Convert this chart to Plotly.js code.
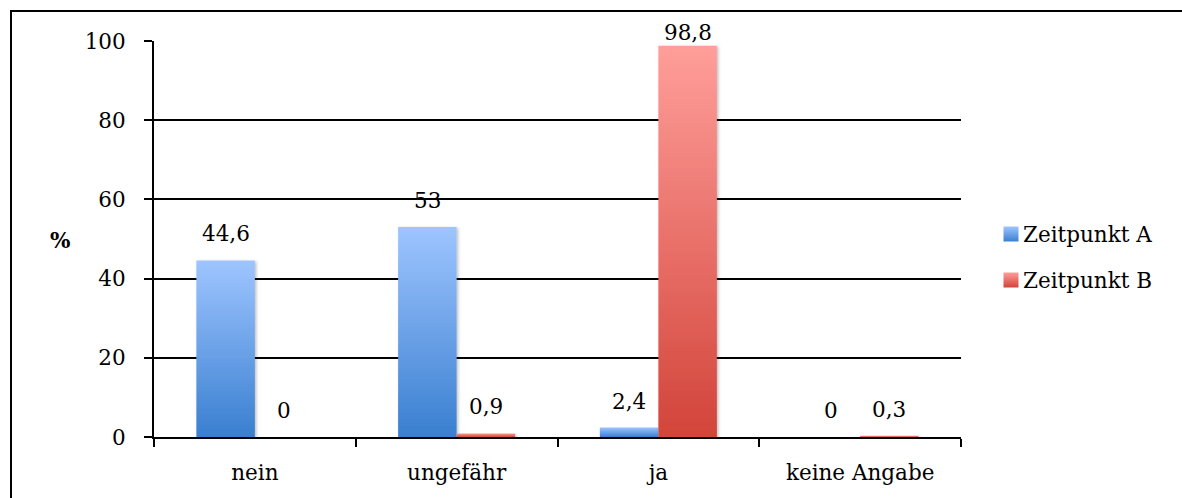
<!DOCTYPE html>
<html>
<head>
<meta charset="utf-8">
<script src="https://cdn.plot.ly/plotly-3.0.1.min.js"></script>
<style>
  html, body { margin: 0; padding: 0; background: #fff; }
  #chart { width: 1182px; height: 498px; }
</style>
</head>
<body>
<div id="chart"></div>
<script>
// ---- data ----
const categories = ["nein", "ungefähr", "ja", "keine Angabe"];
const seriesNames = ["Zeitpunkt A", "Zeitpunkt B"];
const valuesA = [44.6, 53, 2.4, 0];
const valuesB = [0, 0.9, 98.8, 0.3];
const yTicks = [0, 20, 40, 60, 80, 100];

// ---- layout constants ----
const W = 1182, H = 498;
const M = { l: 154, r: 221, t: 41, b: 61 };
const FONT = "DejaVu Serif, Liberation Serif, serif";
const FS = 21.5;
const BARGAP = 0.42;
const barW = (1 - BARGAP) / 2;
const labelCap = 95.4;

const traceA = {
  type: "bar", name: seriesNames[0], x: categories, y: valuesA,
  marker: { color: "#6fa3ea", line: { width: 0 } },
  legendgroup: "a", hoverinfo: "skip"
};
const traceB = {
  type: "bar", name: seriesNames[1], x: categories, y: valuesB,
  marker: { color: "#ea726a", line: { width: 0 } },
  legendgroup: "b", hoverinfo: "skip"
};

function fmt(v) { return String(v).replace(".", ","); }

const annotations = [];
[valuesA, valuesB].forEach((vals, s) => {
  vals.forEach((v, i) => {
    annotations.push({
      xref: "x", yref: "y",
      x: i + (s === 0 ? -barW / 2 : barW / 2),
      y: Math.min(v, labelCap),
      yanchor: "bottom", xanchor: "center",
      yshift: 12,
      text: fmt(v), showarrow: false,
      font: { family: FONT, size: FS, color: "#000" }
    });
  });
});

const pw = W - M.l - M.r, ph = H - M.t - M.b;
const fx = (px) => (px - M.l) / pw;
const fy = (py) => (H - M.b - py) / ph;

annotations.push({
  xref: "paper", yref: "paper",
  x: fx(60), y: fy(241),
  xanchor: "center", yanchor: "middle",
  text: "<b>%</b>", showarrow: false,
  font: { family: FONT, size: FS, color: "#000" }
});

const layout = {
  width: W, height: H,
  margin: M,
  paper_bgcolor: "#fff", plot_bgcolor: "#fff",
  barmode: "group", bargap: BARGAP, bargroupgap: 0,
  showlegend: true,
  legend: {
    x: fx(983), xanchor: "left", y: fy(257), yanchor: "middle",
    font: { family: FONT, size: FS, color: "#000" },
    tracegroupgap: 15, bgcolor: "rgba(0,0,0,0)", itemclick: false
  },
  xaxis: {
    type: "category", range: [-0.5, 3.5],
    showline: true, linecolor: "#000", linewidth: 2,
    ticks: "outside", ticklen: 8, tickcolor: "#000", tickwidth: 2,
    tickson: "boundaries", showgrid: false,
    tickfont: { family: FONT, size: FS, color: "#000" },
    ticklabelstandoff: 15, fixedrange: true
  },
  yaxis: {
    range: [0, 100], tickvals: yTicks, ticktext: yTicks.map(String),
    showline: true, linecolor: "#000", linewidth: 2,
    ticks: "outside", ticklen: 8, tickcolor: "#000", tickwidth: 2,
    showgrid: true, gridcolor: "#000", gridwidth: 2,
    zeroline: false,
    tickfont: { family: FONT, size: FS, color: "#000" },
    ticklabelstandoff: 14, fixedrange: true
  },
  annotations: annotations,
  shapes: [{
    type: "path", xref: "paper", yref: "paper",
    path: `M ${fx(11)} ${fy(H + 5)} L ${fx(11)} ${fy(11)} L ${fx(W + 5)} ${fy(11)}`,
    line: { color: "#000", width: 2 }
  }],
  font: { family: FONT, color: "#000" }
};

Plotly.newPlot("chart", [traceA, traceB], layout, { displayModeBar: false, staticPlot: true }).then((gd) => {
  const svgNS = "http://www.w3.org/2000/svg";
  const svg = gd.querySelector(".main-svg");
  let defs = svg.querySelector("defs");
  if (!defs) { defs = document.createElementNS(svgNS, "defs"); svg.insertBefore(defs, svg.firstChild); }
  function grad(id, top, bottom) {
    const g = document.createElementNS(svgNS, "linearGradient");
    g.setAttribute("id", id);
    g.setAttribute("x1", "0"); g.setAttribute("y1", "0");
    g.setAttribute("x2", "0"); g.setAttribute("y2", "1");
    [[0, top], [1, bottom]].forEach(([o, c]) => {
      const st = document.createElementNS(svgNS, "stop");
      st.setAttribute("offset", o); st.setAttribute("stop-color", c);
      g.appendChild(st);
    });
    defs.appendChild(g);
  }
  grad("gradA", "#9ec5ff", "#3a7fd0");
  grad("gradB", "#ff9e9a", "#d2443a");
  const f = document.createElementNS(svgNS, "filter");
  f.setAttribute("id", "shadow"); f.setAttribute("x", "-20%"); f.setAttribute("y", "-5%");
  f.setAttribute("width", "140%"); f.setAttribute("height", "110%");
  f.innerHTML = '<feDropShadow dx="1.5" dy="1" stdDeviation="1.5" flood-color="#000" flood-opacity="0.25"/>';
  defs.appendChild(f);
  const ids = ["gradA", "gradB"];
  gd.querySelectorAll(".barlayer .trace").forEach((t, k) => {
    t.querySelectorAll("path").forEach((p) => {
      p.style.fill = `url(#${ids[k]})`;
      p.setAttribute("filter", "url(#shadow)");
    });
  });
  gd.querySelectorAll(".legend .traces").forEach((t, k) => {
    t.querySelectorAll(".legendpoints path").forEach((p) => {
      p.style.fill = `url(#${ids[k]})`;
      p.setAttribute("transform", "translate(28,0) scale(1.25)");
    });
  });
});
</script>
</body>
</html>
